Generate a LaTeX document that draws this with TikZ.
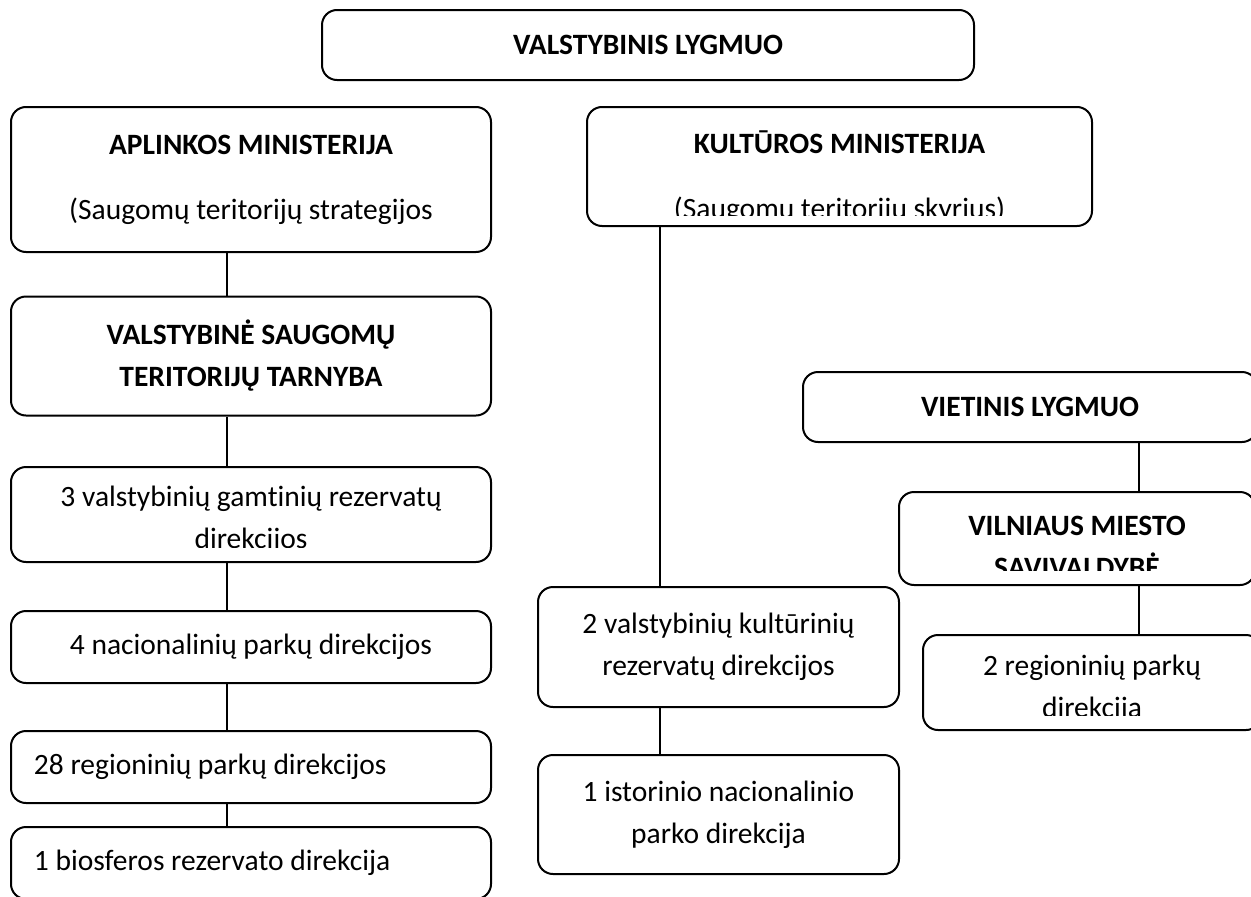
\documentclass[tikz,border=0pt]{standalone}
\usepackage{fontspec}
\setmainfont{Carlito}[Ligatures=NoCommon]
\usetikzlibrary{positioning}

\tikzset{
  box/.style={draw, rounded corners=15pt, line width=2pt, align=center, inner sep=0pt},
  txt/.style={align=center, inner sep=0pt},
  bold/.style={font=\fontsize{29.5pt}{42pt}\selectfont\bfseries},
  link/.style={line width=1.6pt},
}

\begin{document}
\begin{tikzpicture}[x=1pt, y=-1pt, font=\fontsize{29.5pt}{42pt}\selectfont]

    \useasboundingbox (0,0) rectangle (1251,897);

    \node(vl)[box,bold,minimum width=652pt,minimum height=70pt] at (648,45) {VALSTYBINIS LYGMUO};

    \node(am)[box,minimum width=480pt,minimum height=145pt] at (251,179.5)
        {\textbf{APLINKOS MINISTERIJA}\\[23pt](Saugomų teritorijų strategijos};
    \node(vst)[box,bold,minimum width=480pt,minimum height=119pt] at (251,356) {VALSTYBINĖ SAUGOMŲ\\TERITORIJŲ TARNYBA};
    \node(gr)[box,minimum width=480pt,minimum height=95pt] at (251,514.5) {};
    \begin{scope}
        \clip (11,470) rectangle (491,547);
        \node(gr-t)[txt] at (251,519.5) {3 valstybinių gamtinių rezervatų\\direkcijos};
    \end{scope}
    \node(np)[box,minimum width=480pt,minimum height=72pt] at (251,647) {4 nacionalinių parkų direkcijos};
    \node(rp)[box,minimum width=480pt,minimum height=72pt] at (251,767) {\makebox[434pt][l]{28 regioninių parkų direkcijos}};
    \node(bio)[box,minimum width=480pt,minimum height=72pt] at (251,863) {\makebox[434pt][l]{1 biosferos rezervato direkcija}};

    \node(km)[box,minimum width=505pt,minimum height=119pt] at (839.5,166.5) {};
    \begin{scope}
        \clip (590,110) rectangle (1089,215);
        \node(km-t)[txt] at (839.5,177.5) {\textbf{KULTŪROS MINISTERIJA}\\[23pt](Saugomų teritorijų skyrius)};
    \end{scope}
    \node(kr)[box,minimum width=361pt,minimum height=120pt] at (718.5,647) {2 valstybinių kultūrinių\\rezervatų direkcijos};
    \node(inp)[box,minimum width=361pt,minimum height=119pt] at (718.5,814.5) {1 istorinio nacionalinio\\parko direkcija};

    \node(vt)[box,bold,minimum width=454pt,minimum height=70pt] at (1030,407) {VIETINIS LYGMUO};
    \node(vms)[box,minimum width=356pt,minimum height=93pt] at (1077,538.5) {};
    \begin{scope}
        \clip (902,494) rectangle (1251,570);
        \node(vms-t)[txt,bold] at (1077,546.5) {VILNIAUS MIESTO\\SAVIVALDYBĖ};
    \end{scope}
    \node(rp2)[box,minimum width=338pt,minimum height=95pt] at (1092,682.5) {};
    \begin{scope}
        \clip (926,638) rectangle (1251,715);
        \node(rp2-t)[txt] at (1092,688.5) {2 regioninių parkų\\direkcija};
    \end{scope}

    \coordinate(lx) at (227,0);
    \coordinate(cx) at (660,0);
    \coordinate(rx) at (1139,0);

    \draw[link] (am.south -| lx) -- (vst.north -| lx)
                (vst.south -| lx) -- (gr.north -| lx)
                (gr.south -| lx) -- (np.north -| lx)
                (np.south -| lx) -- (rp.north -| lx)
                (rp.south -| lx) -- (bio.north -| lx)
                (km.south -| cx) -- (kr.north -| cx)
                (kr.south -| cx) -- (inp.north -| cx)
                (vt.south -| rx) -- (vms.north -| rx)
                (vms.south -| rx) -- (rp2.north -| rx)
                ;

\end{tikzpicture}
\end{document}
